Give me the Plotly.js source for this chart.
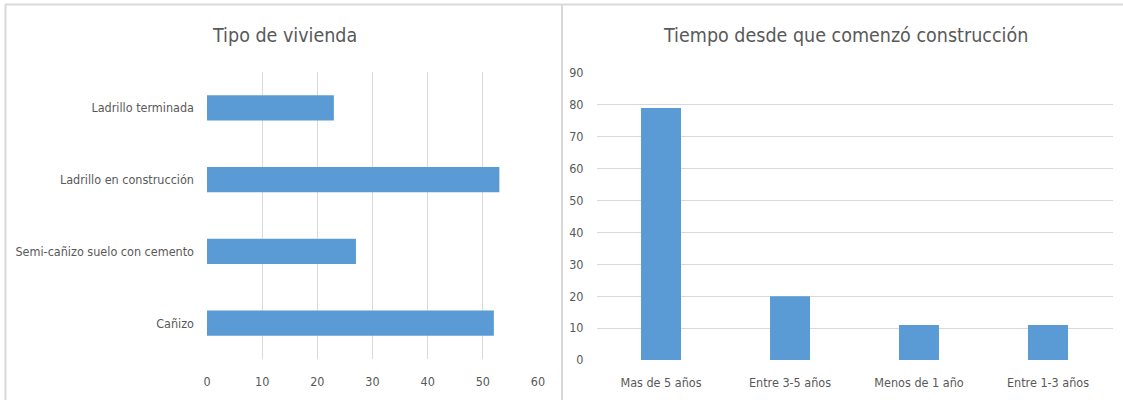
<!DOCTYPE html>
<html>
<head>
<meta charset="utf-8">
<script src="https://cdn.plot.ly/plotly-3.0.1.min.js"></script>
<style>
  html, body { margin: 0; padding: 0; background: #ffffff; }
  #chart { width: 1123px; height: 400px; }
</style>
</head>
<body>
<div id="chart"></div>
<script>
// Housing type (listed top to bottom)
const viviendaCategorias = ['Ladrillo terminada', 'Ladrillo en construcción', 'Semi-cañizo suelo con cemento', 'Cañizo'];
const viviendaValores = [23, 53, 27, 52];

// Time since construction started
const tiempoCategorias = ['Mas de 5 años', 'Entre 3-5 años', 'Menos de 1 año', 'Entre 1-3 años'];
const tiempoValores = [79, 20, 11, 11];

const xTicksVivienda = [0, 10, 20, 30, 40, 50, 60];
const yTicksTiempo = [0, 10, 20, 30, 40, 50, 60, 70, 80, 90];

const W = 1123, H = 400;
const px = v => v / W;          // horizontal pixel -> paper
const py = v => 1 - v / H;      // vertical pixel (from top) -> paper

const barColor = '#5b9bd5';
const gridColor = '#d9d9d9';
const textColor = '#595959';
const fontFamily = '"DejaVu Sans Condensed", "Liberation Sans Narrow", sans-serif';

const traces = [
  {
    type: 'bar', orientation: 'h',
    x: viviendaValores, y: viviendaCategorias,
    xaxis: 'x', yaxis: 'y',
    width: 0.35,
    marker: { color: barColor },
    hoverinfo: 'x+y'
  },
  {
    type: 'bar',
    x: tiempoCategorias, y: tiempoValores,
    xaxis: 'x2', yaxis: 'y2',
    width: 0.31,
    marker: { color: barColor },
    hoverinfo: 'x+y'
  }
];

const tickFont = { family: fontFamily, size: 12.5, color: textColor };
const titleFont = { family: fontFamily, size: 19.5, color: textColor };

const layout = {
  width: W, height: H,
  margin: { l: 0, r: 0, t: 0, b: 0 },
  paper_bgcolor: '#ffffff',
  plot_bgcolor: '#ffffff',
  showlegend: false,
  font: { family: fontFamily, color: textColor },
  xaxis: {
    domain: [px(207), px(538)],
    range: [0, 60],
    tickvals: xTicksVivienda,
    ticktext: xTicksVivienda.map(String),
    showgrid: true, gridcolor: gridColor, gridwidth: 1,
    zeroline: false, showline: false, ticks: '',
    tickfont: tickFont,
    ticklabelstandoff: 13,
    anchor: 'y', fixedrange: true
  },
  yaxis: {
    domain: [py(359), py(72)],
    type: 'category',
    categoryorder: 'array', categoryarray: viviendaCategorias,
    autorange: 'reversed',
    showgrid: false, zeroline: false, showline: false, ticks: '',
    tickfont: tickFont,
    ticklabelstandoff: 12,
    anchor: 'x', fixedrange: true
  },
  xaxis2: {
    domain: [px(596.5), px(1112.5)],
    type: 'category',
    categoryorder: 'array', categoryarray: tiempoCategorias,
    showgrid: false, zeroline: false, showline: false, ticks: '',
    tickfont: tickFont,
    ticklabelstandoff: 13,
    anchor: 'y2', fixedrange: true
  },
  yaxis2: {
    domain: [py(360), py(73)],
    range: [0, 90],
    tickvals: yTicksTiempo,
    ticktext: yTicksTiempo.map(String),
    showgrid: true, gridcolor: gridColor, gridwidth: 1,
    zeroline: false, showline: false, ticks: '',
    tickfont: tickFont,
    ticklabelstandoff: 12,
    anchor: 'x2', fixedrange: true
  },
  annotations: [
    {
      text: 'Tipo de vivienda',
      xref: 'paper', yref: 'paper', x: px(284), y: py(35),
      xanchor: 'center', yanchor: 'middle', showarrow: false,
      font: titleFont
    },
    {
      text: 'Tiempo desde que comenzó construcción',
      xref: 'paper', yref: 'paper', x: px(845), y: py(35),
      xanchor: 'center', yanchor: 'middle', showarrow: false,
      font: titleFont
    }
  ],
  shapes: [
    // outer frame: top edge, left edge, and divider between the two charts
    { type: 'line', xref: 'paper', yref: 'paper', x0: px(5), x1: 1, y0: py(4.5), y1: py(4.5),
      line: { color: gridColor, width: 2 } },
    { type: 'line', xref: 'paper', yref: 'paper', x0: px(5.5), x1: px(5.5), y0: py(4), y1: 0,
      line: { color: gridColor, width: 2 } },
    { type: 'line', xref: 'paper', yref: 'paper', x0: px(562), x1: px(562), y0: py(4), y1: 0,
      line: { color: gridColor, width: 2 } }
  ]
};

Plotly.newPlot('chart', traces, layout, { displayModeBar: false, staticPlot: true });
</script>
</body>
</html>
